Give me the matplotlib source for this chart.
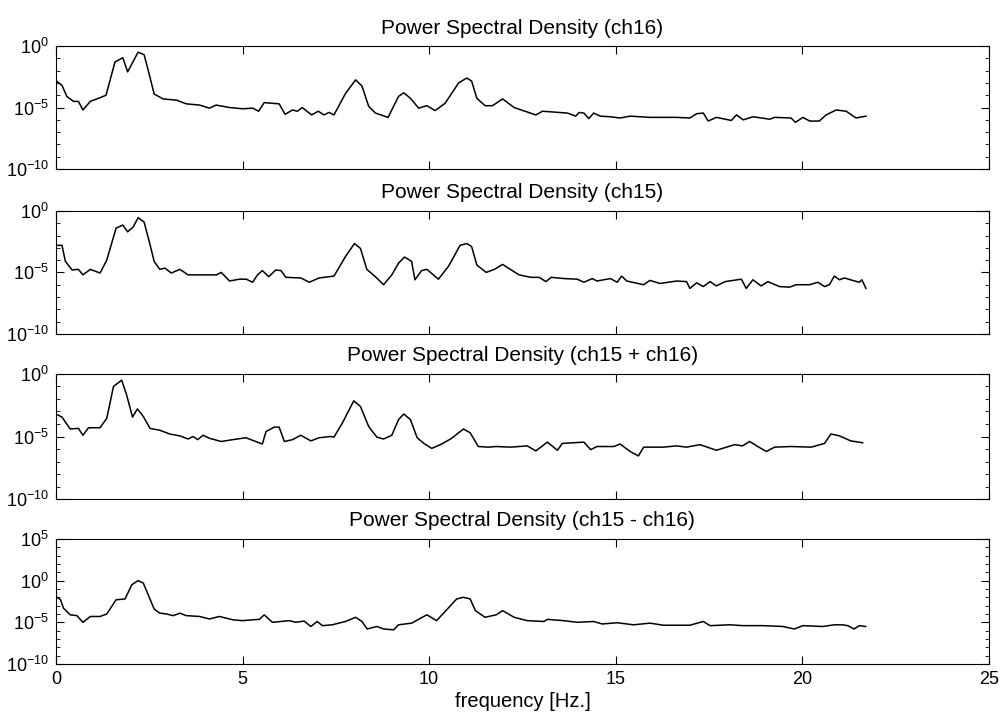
import numpy as np
import matplotlib
matplotlib.use("Agg")
import matplotlib.pyplot as plt
from matplotlib.ticker import FixedLocator, NullFormatter

plt.rcParams['font.family'] = ['Liberation Sans', 'DejaVu Sans']
plt.rcParams['mathtext.fontset'] = 'custom'
plt.rcParams['mathtext.rm'] = 'Liberation Sans'
plt.rcParams['mathtext.it'] = 'Liberation Sans'

# frequency [Hz] and log10(PSD)
f16 = [0.03, 0.16, 0.29, 0.47, 0.6, 0.72, 0.92, 1.18, 1.34, 1.58, 1.79, 1.92, 2.2, 2.36, 2.47, 2.63,
       2.87, 3.23, 3.49, 3.85, 4.11, 4.29, 4.65, 5.0, 5.27, 5.43, 5.58, 5.98, 6.14, 6.34, 6.47, 6.6,
       6.85, 7.03, 7.18, 7.32, 7.45, 7.76, 8.03, 8.2, 8.38, 8.56, 8.9, 9.18, 9.32, 9.5, 9.72, 9.94,
       10.16, 10.43, 10.79, 11.01, 11.14, 11.28, 11.5, 11.7, 11.97, 12.28, 12.86, 13.04, 13.71, 13.93,
       14.02, 14.15, 14.28, 14.41, 14.59, 14.85, 15.12, 15.39, 15.92, 16.63, 16.99, 17.17, 17.35, 17.48,
       17.7, 18.1, 18.24, 18.42, 18.68, 19.13, 19.26, 19.7, 19.82, 20.02, 20.2, 20.46, 20.64, 20.91,
       21.18, 21.44, 21.71]
p16 = [-2.9, -3.2, -4.1, -4.5, -4.5, -5.2, -4.5, -4.2, -4.0, -1.3, -0.95, -2.1, -0.5, -0.7, -1.95, -3.9,
       -4.3, -4.4, -4.7, -4.8, -5.05, -4.8, -5.0, -5.1, -5.05, -5.3, -4.6, -4.7, -5.55, -5.2, -5.3, -5.0,
       -5.6, -5.3, -5.6, -5.4, -5.6, -3.85, -2.75, -3.25, -4.9, -5.45, -5.8, -4.1, -3.8, -4.25, -5.05, -4.85,
       -5.25, -4.65, -3.0, -2.6, -2.85, -4.25, -4.85, -4.85, -4.3, -5.0, -5.6, -5.3, -5.45, -5.7,
       -5.4, -5.45, -5.9, -5.45, -5.7, -5.75, -5.85, -5.7, -5.8, -5.8, -5.85, -5.5, -5.45, -6.1,
       -5.8, -6.05, -5.6, -6.0, -5.75, -5.95, -5.8, -5.85, -6.2, -5.8, -6.1, -6.1, -5.6, -5.2,
       -5.3, -5.85, -5.7]

f15 = [0.03, 0.16, 0.25, 0.43, 0.6, 0.72, 0.92, 1.18, 1.36, 1.61, 1.79, 1.92, 2.07, 2.2, 2.36, 2.5,
       2.63, 2.78, 2.92, 3.09, 3.32, 3.54, 3.85, 4.3, 4.43, 4.65, 4.92, 5.1, 5.27, 5.4, 5.53, 5.7,
       5.89, 6.03, 6.16, 6.56, 6.79, 7.05, 7.45, 7.76, 8.0, 8.16, 8.33, 8.56, 8.78, 9.0, 9.18, 9.34,
       9.53, 9.62, 9.8, 9.94, 10.25, 10.52, 10.83, 11.01, 11.14, 11.28, 11.53, 11.75, 11.97, 12.41,
       12.73, 12.95, 13.13, 13.27, 13.62, 13.97, 14.15, 14.37, 14.5, 14.86, 15.04, 15.16, 15.3, 15.75,
       15.92, 16.19, 16.63, 16.9, 16.99, 17.17, 17.35, 17.53, 17.7, 17.93, 18.15, 18.37, 18.5, 18.68,
       18.9, 19.08, 19.39, 19.66, 19.84, 20.2, 20.42, 20.6, 20.73, 20.86, 21.0, 21.13, 21.35, 21.53,
       21.6, 21.71]
p15 = [-2.8, -2.8, -4.1, -4.8, -4.75, -5.2, -4.75, -5.05, -4.0, -1.4, -1.15, -1.7, -1.3, -0.55, -0.9, -2.5,
       -4.1, -4.75, -4.65, -5.05, -4.75, -5.2, -5.2, -5.2, -5.0, -5.7, -5.55, -5.55, -5.8, -5.2, -4.85, -5.35,
       -4.8, -4.85, -5.4, -5.45, -5.8, -5.45, -5.3, -3.7, -2.65, -3.05, -4.75, -5.35, -6.0, -5.2, -4.25, -3.75,
       -4.1, -5.6, -4.85, -4.75, -5.55, -4.5, -2.8, -2.65, -2.9, -4.4, -5.0, -4.75, -4.35, -5.2,
       -5.4, -5.4, -5.75, -5.4, -5.5, -5.55, -5.8, -5.5, -5.7, -5.5, -5.8, -5.3, -5.7, -6.0,
       -5.65, -5.9, -5.7, -5.75, -6.3, -5.85, -6.15, -5.75, -6.1, -5.75, -5.65, -5.55, -6.3, -5.6,
       -6.1, -5.75, -6.15, -6.2, -6.0, -6.0, -5.8, -6.15, -6.0, -5.3, -5.6, -5.45, -5.65, -5.8,
       -5.6, -6.3]

fsum = [0.03, 0.16, 0.38, 0.6, 0.72, 0.87, 1.18, 1.36, 1.54, 1.76, 1.89, 2.05, 2.18, 2.34, 2.52, 2.78,
        3.05, 3.32, 3.54, 3.67, 3.8, 3.94, 4.12, 4.43, 4.74, 5.09, 5.53, 5.63, 5.85, 5.98, 6.12, 6.34,
        6.56, 6.83, 7.05, 7.36, 7.45, 7.67, 7.98, 8.16, 8.38, 8.6, 8.78, 9.0, 9.18, 9.32, 9.5, 9.68,
        9.86, 10.07, 10.34, 10.6, 10.92, 11.1, 11.32, 11.58, 11.8, 12.19, 12.63, 12.86, 13.17, 13.44,
        13.57, 14.15, 14.33, 14.5, 14.95, 15.12, 15.39, 15.61, 15.75, 16.28, 16.63, 16.9, 17.26, 17.7,
        18.19, 18.4, 18.59, 18.81, 19.04, 19.26, 19.7, 20.24, 20.6, 20.77, 21.0, 21.3, 21.62]
psum = [-3.25, -3.45, -4.4, -4.35, -4.9, -4.3, -4.3, -3.55, -1.0, -0.5, -1.65, -3.45, -2.8, -3.4, -4.35, -4.5,
        -4.8, -4.95, -5.2, -5.0, -5.25, -4.9, -5.15, -5.4, -5.25, -5.1, -5.6, -4.6, -4.25, -4.25, -5.4, -5.25,
        -4.9, -5.35, -5.1, -5.0, -5.05, -3.95, -2.15, -2.6, -4.2, -5.05, -5.2, -4.9, -3.65, -3.2, -3.65, -5.1,
        -5.55, -5.95, -5.6, -5.15, -4.4, -4.7, -5.8, -5.85, -5.8, -5.85, -5.75, -6.15, -5.45, -6.1,
        -5.55, -5.45, -6.05, -5.8, -5.8, -5.6, -6.2, -6.55, -5.85, -5.85, -5.75, -5.85, -5.65, -6.1,
        -5.65, -5.75, -5.4, -5.8, -6.2, -5.85, -5.8, -5.85, -5.55, -4.8, -4.95, -5.35, -5.5]

fdif = [0.03, 0.12, 0.2, 0.38, 0.56, 0.72, 0.92, 1.18, 1.36, 1.61, 1.85, 2.03, 2.2, 2.34, 2.47, 2.63,
        2.78, 2.96, 3.14, 3.32, 3.49, 3.85, 4.11, 4.38, 4.74, 5.0, 5.27, 5.45, 5.58, 5.8, 6.25, 6.43,
        6.65, 6.83, 7.0, 7.14, 7.4, 7.76, 8.03, 8.2, 8.34, 8.6, 8.78, 9.05, 9.18, 9.53, 9.94, 10.2,
        10.47, 10.74, 10.92, 11.1, 11.24, 11.5, 11.8, 11.97, 12.28, 12.63, 13.08, 13.17, 13.6, 13.97,
        14.41, 14.64, 15.04, 15.48, 15.92, 16.28, 16.99, 17.35, 17.53, 18.06, 18.42, 18.95, 19.48, 19.79,
        20.02, 20.55, 20.86, 21.08, 21.22, 21.39, 21.53, 21.7]
pdif = [-2.0, -2.3, -3.3, -4.1, -4.2, -5.0, -4.3, -4.3, -4.0, -2.3, -2.2, -0.5, 0.0, -0.3, -1.7, -3.4,
        -3.9, -4.0, -4.2, -3.9, -4.2, -4.3, -4.6, -4.3, -4.7, -4.8, -4.7, -4.65, -4.1, -5.0, -4.8, -5.0,
        -4.85, -5.5, -4.9, -5.4, -5.3, -4.9, -4.4, -4.9, -5.8, -5.5, -5.8, -5.9, -5.3, -5.1, -4.1, -4.8,
        -3.5, -2.2, -2.0, -2.2, -3.6, -4.4, -4.1, -3.6, -4.4, -4.8, -4.9, -4.65, -4.8, -5.0,
        -4.9, -5.2, -5.05, -5.3, -5.1, -5.35, -5.35, -4.9, -5.4, -5.3, -5.4, -5.4, -5.5, -5.8,
        -5.4, -5.5, -5.3, -5.3, -5.4, -5.8, -5.4, -5.5]

titles = ['Power Spectral Density (ch16)', 'Power Spectral Density (ch15)',
          'Power Spectral Density (ch15 + ch16)', 'Power Spectral Density (ch15 - ch16)']
series = [(f16, p16), (f15, p15), (fsum, psum), (fdif, pdif)]

fig = plt.figure(figsize=(10.04, 7.15), dpi=100)
boxes = [(0.0558, 0.7636, 0.929, 0.172), (0.0558, 0.533, 0.929, 0.172),
         (0.0558, 0.302, 0.929, 0.175), (0.0558, 0.0713, 0.929, 0.175)]

for i, (box, (f, p), t) in enumerate(zip(boxes, series, titles)):
    ax = fig.add_axes(box)
    ax.semilogy(f, 10.0 ** np.array(p), color='black', lw=1.1)
    ax.set_xlim(0, 25)
    top = 5 if i == 3 else 0
    ax.set_ylim(1e-10, 10.0 ** top)
    major = [10.0 ** k for k in range(-10, top + 1, 5)]
    ax.yaxis.set_major_locator(FixedLocator(major))
    ax.yaxis.set_minor_locator(FixedLocator([10.0 ** k for k in range(-10, top + 1)]))
    ax.yaxis.set_minor_formatter(NullFormatter())
    ax.set_xticks([0, 5, 10, 15, 20, 25])
    ax.tick_params(which='both', direction='in', top=True, right=True, labelsize=13)
    ax.tick_params(which='major', length=6, pad=5)
    ax.tick_params(which='minor', length=3)
    if i < 3:
        ax.set_xticklabels([])
    else:
        ax.set_xlabel('frequency [Hz.]', fontsize=14.5, labelpad=3)
    ax.set_title(t, fontsize=15, pad=9)

fig.savefig('out.png', dpi=100)
